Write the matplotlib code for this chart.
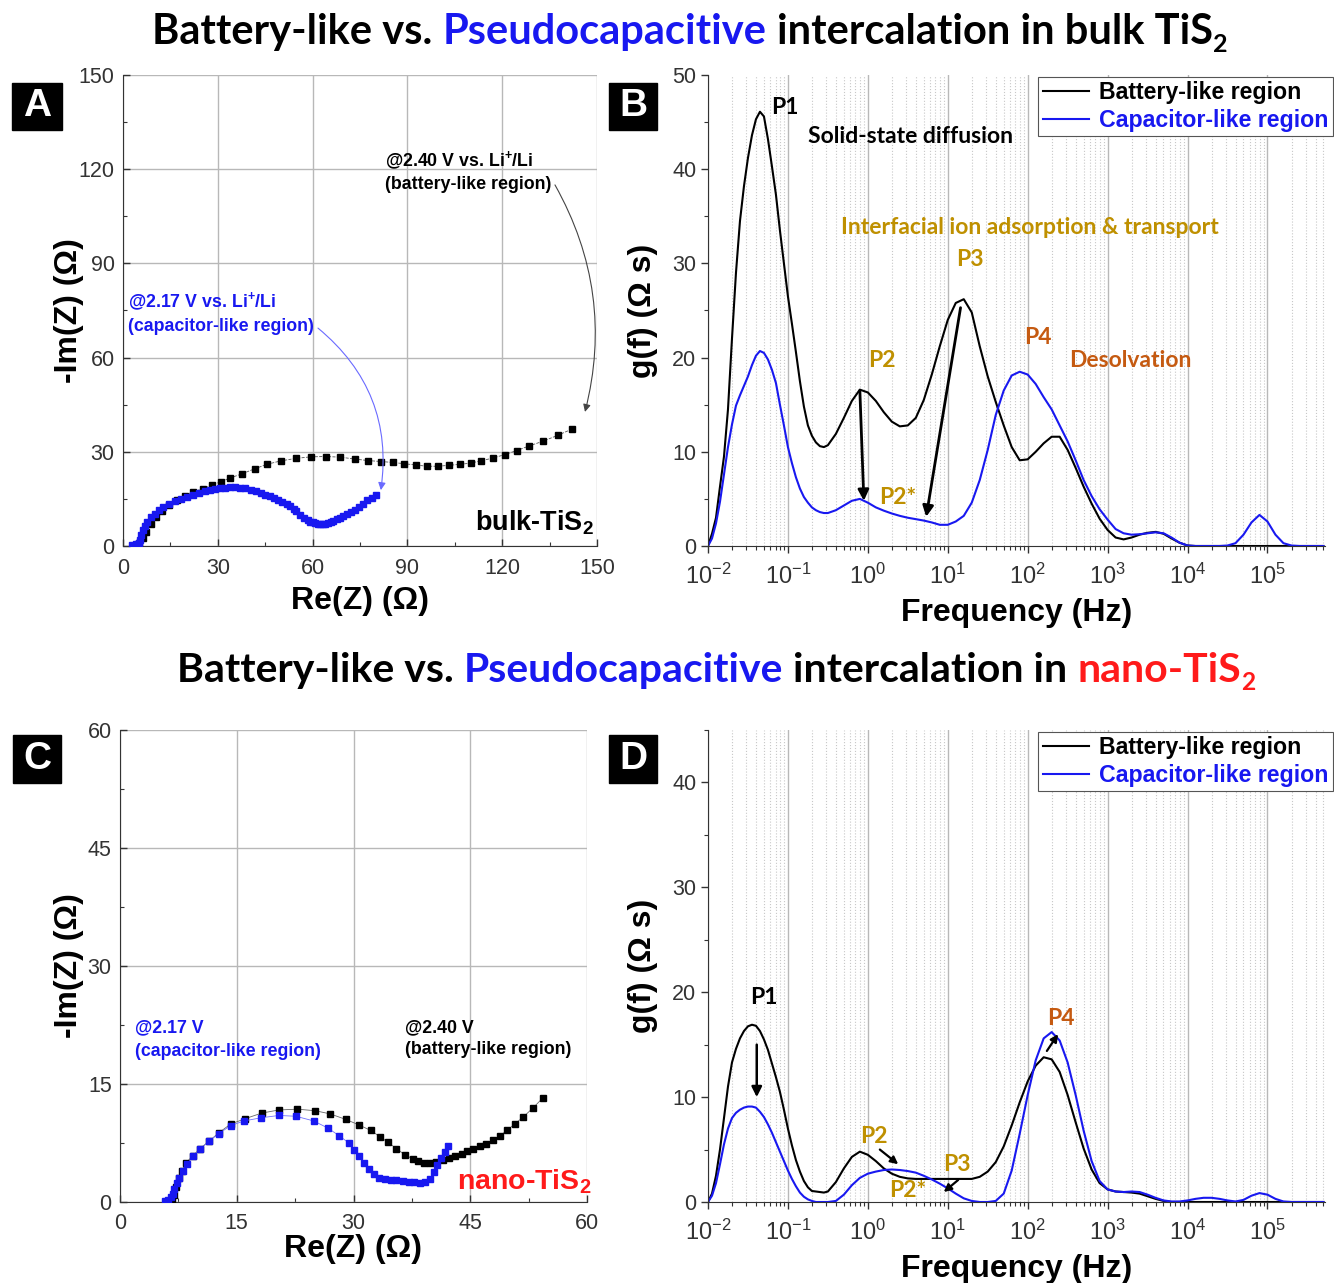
import numpy as np
import matplotlib
matplotlib.use('Agg')
import matplotlib.pyplot as plt
from matplotlib.patches import Rectangle
from matplotlib.ticker import MultipleLocator, FixedLocator, LogLocator, NullFormatter

plt.rcParams['font.family'] = 'Liberation Sans'
plt.rcParams['mathtext.fontset'] = 'custom'
plt.rcParams['mathtext.rm'] = 'Liberation Sans'
plt.rcParams['mathtext.bf'] = 'Liberation Sans:bold'
plt.rcParams['mathtext.it'] = 'Liberation Sans:italic'

BLUE = '#1818f0'
GOLD = '#bf9000'
ORANGE = '#c55a11'
RED = '#ff1a1a'

# --- Nyquist data, bulk TiS2 (Re, -Im in ohm) ---
bulk_240_re = [4.0, 5.2, 6.2, 7.4, 8.8, 10.5, 12.4, 14.6, 17.0, 19.6, 22.3, 25.2,
               28.2, 31.0, 34.0, 37.7, 41.7, 45.5, 49.9, 54.7, 59.4, 64.1, 68.7,
               73.3, 77.6, 81.7, 85.5, 89.0, 92.7, 96.1, 99.6, 103.2, 106.6, 110.0,
               113.2, 117.0, 120.8, 124.6, 128.6, 133.0, 137.7, 142.2]
bulk_240_im = [0.2, 1.0, 2.6, 4.6, 6.9, 9.1, 11.0, 12.9, 14.5, 15.9, 17.2, 18.3,
               19.4, 20.5, 21.7, 23.0, 24.6, 26.0, 27.1, 27.9, 28.4, 28.5, 28.3,
               27.7, 27.2, 26.9, 26.6, 26.2, 25.8, 25.4, 25.4, 25.7, 26.0, 26.4,
               27.1, 28.0, 29.1, 30.4, 31.9, 33.4, 35.3, 37.3]
bulk_217_re = [3.0, 4.2, 5.0, 5.4, 5.8, 6.3, 6.9, 7.7, 8.8, 10.0, 11.3, 12.8, 14.5,
               16.3, 18.3, 20.1, 22.0, 24.0, 25.9, 27.5, 29.0, 30.6, 32.2, 33.8,
               35.3, 37.0, 38.5, 40.4, 42.2, 43.6, 45.0, 46.5, 47.9, 49.2, 50.4,
               51.8, 53.0, 54.0, 54.9, 56.0, 57.4, 58.5, 59.3, 60.0, 60.8, 61.6,
               62.4, 63.2, 64.0, 64.8, 65.7, 66.6, 67.6, 68.6, 69.7, 70.9, 72.1,
               73.3, 74.6, 76.0, 77.3, 78.7, 80.1]
bulk_217_im = [0.3, 0.6, 0.8, 2.0, 3.6, 5.0, 6.5, 7.8, 9.1, 10.3, 11.4, 12.4, 13.3,
               14.2, 15.0, 15.7, 16.3, 16.9, 17.5, 17.9, 18.2, 18.4, 18.6, 18.7,
               18.7, 18.5, 18.4, 17.9, 17.5, 16.9, 16.3, 15.8, 15.2, 14.6, 14.1,
               13.4, 12.7, 11.8, 11.0, 10.0, 9.0, 8.2, 7.7, 7.5, 7.2, 7.1,
               7.0, 7.0, 7.1, 7.3, 7.6, 8.0, 8.5, 9.0, 9.6, 10.2, 10.9,
               11.6, 12.5, 13.5, 14.5, 15.4, 16.3]

# --- Nyquist data, nano TiS2 ---
nano_240_re = [6.7, 7.0, 7.2, 7.6, 8.0, 8.5, 9.4, 10.3, 11.4, 12.7, 14.2, 16.1, 18.2,
               20.4, 22.8, 25.1, 27.0, 29.0, 30.7, 32.2, 33.4, 34.4, 35.5, 36.6,
               37.6, 38.3, 39.1, 39.8, 40.6, 41.5, 42.3, 43.1, 43.9, 44.6, 45.4,
               46.2, 47.0, 47.9, 48.8, 49.7, 50.7, 51.8, 53.0, 54.3]
nano_240_im = [0.2, 0.9, 1.9, 3.1, 4.0, 5.0, 5.9, 6.8, 7.7, 8.8, 9.9, 10.6, 11.3,
               11.7, 11.8, 11.6, 11.2, 10.5, 9.8, 9.1, 8.3, 7.6, 6.8, 6.0,
               5.5, 5.2, 5.0, 5.0, 5.1, 5.3, 5.6, 5.9, 6.1, 6.5, 6.75,
               7.1, 7.4, 7.9, 8.4, 9.1, 9.9, 10.8, 11.9, 13.2]
nano_217_re = [5.8, 6.2, 6.6, 6.8, 7.0, 7.3, 7.6, 8.1, 8.6, 9.4, 10.3, 11.4, 12.7,
               14.2, 15.9, 18.1, 20.4, 22.6, 24.9, 26.7, 28.2, 29.4, 30.0, 30.7,
               31.4, 32.0, 32.6, 33.3, 34.0, 34.8, 35.5, 36.3, 37.1, 37.8, 38.6,
               39.2, 39.8, 40.3, 40.7, 41.2, 41.7, 42.1]
nano_217_im = [0.1, 0.2, 0.6, 1.0, 1.7, 2.4, 3.1, 3.9, 4.8, 5.8, 6.7, 7.7, 8.7,
               9.7, 10.3, 10.7, 11.0, 10.9, 10.3, 9.4, 8.4, 7.5, 6.6, 5.8,
               5.0, 4.2, 3.5, 3.1, 2.9, 2.8, 2.75, 2.65, 2.55, 2.5, 2.4,
               2.5, 2.9, 3.8, 4.7, 5.6, 6.4, 7.1]

# --- DRT data, g(f) in ohm s ---
# 0.05-decade steps through the P1 region (1e-2 .. 10^-0.55 Hz),
# 0.1-decade steps from 10^-0.5 up to 10^5.7 Hz
log_f = np.round(np.concatenate([np.arange(-2.0, -0.525, 0.05),
                                 np.arange(-0.5, 5.75, 0.1)]), 2)
freq = 10.0 ** log_f
decades = [1e-2, 1e-1, 1e0, 1e1, 1e2, 1e3, 1e4, 1e5]

drt_bulk_battery = [
    # -2.00 .. -0.55
    0, 1.3, 3.0, 6.3, 9.5, 14.5, 22.0, 29.0, 34.5, 38.2,
    41.2, 43.6, 45.3, 46.1, 45.6, 43.2, 40.3, 37.3, 33.5, 30.0,
    26.5, 23.6, 20.6, 17.5, 14.8, 12.8, 11.7, 11.0, 10.6, 10.5,
    # -0.5 .. 5.7
    10.7, 11.9, 13.6, 15.4, 16.6,
    16.3, 15.4, 14.2, 13.2, 12.7, 12.8, 13.6, 15.5, 18.2, 21.2,
    24.0, 25.8, 26.2, 24.8, 21.2, 18.0, 15.3, 12.8, 10.5, 9.1,
    9.2, 10.0, 10.9, 11.6, 11.6, 10.2, 8.3, 6.3, 4.5, 2.9,
    1.7, 0.9, 0.7, 0.9, 1.2, 1.4, 1.5, 1.3, 0.8, 0.35,
    0.05, 0, 0, 0, 0, 0, 0, 0, 0, 0,
    0, 0, 0, 0, 0, 0, 0, 0]
drt_bulk_capacitor = [
    0, 0.8, 2.4, 4.7, 7.6, 10.5, 12.9, 14.9, 16.0, 17.0,
    18.0, 19.2, 20.2, 20.7, 20.5, 19.8, 18.7, 17.3, 15.0, 12.8,
    10.5, 8.8, 7.3, 6.1, 5.2, 4.6, 4.1, 3.8, 3.6, 3.5,
    3.5, 3.8, 4.3, 4.8, 5.0,
    4.6, 4.1, 3.75, 3.45, 3.2, 3.0, 2.85, 2.7, 2.5, 2.25,
    2.25, 2.6, 3.2, 4.6, 7.0, 10.2, 13.9, 16.5, 18.1, 18.5,
    18.2, 17.2, 15.8, 14.5, 12.8, 11.1, 9.1, 7.0, 5.3, 3.9,
    2.8, 1.8, 1.35, 1.2, 1.25, 1.35, 1.45, 1.35, 0.9, 0.35,
    0.05, 0, 0, 0, 0, 0.05, 0.3, 1.2, 2.5, 3.3,
    2.6, 1.2, 0.3, 0.05, 0, 0, 0, 0]
drt_nano_battery = [
    0, 0.8, 2.5, 5, 8, 11, 13.3, 14.6, 15.6, 16.3,
    16.75, 16.9, 16.8, 16.3, 15.5, 14.5, 13.2, 11.9, 10.5, 8.8,
    7.0, 5.4, 4.0, 2.9, 2.0, 1.4, 1.05, 1.0, 0.95, 0.9,
    1.0, 1.9, 3.2, 4.3, 4.8,
    4.5, 3.9, 3.2, 2.7, 2.4, 2.25, 2.2, 2.2, 2.2, 2.2,
    2.2, 2.2, 2.2, 2.2, 2.4, 2.9, 3.8, 5.3, 7.3, 9.5,
    11.5, 13.0, 13.8, 13.6, 12.4, 10.2, 7.6, 5.1, 3.1, 1.8,
    1.2, 1.0, 0.95, 0.9, 0.8, 0.55, 0.3, 0.1, 0, 0,
    0, 0, 0, 0, 0, 0, 0, 0, 0, 0,
    0, 0, 0, 0, 0, 0, 0, 0]
drt_nano_capacitor = [
    0, 0.6, 1.8, 3.6, 5.5, 7.0, 8.0, 8.5, 8.8, 9.0,
    9.1, 9.1, 9.0, 8.6, 8.1, 7.4, 6.6, 5.7, 4.8, 3.9,
    3.0, 2.2, 1.5, 0.9, 0.5, 0.25, 0.1, 0, 0, 0,
    0, 0.1, 0.7, 1.6, 2.3,
    2.7, 2.9, 3.05, 3.1, 3.05, 2.95, 2.8, 2.5, 2.15, 1.75,
    1.3, 0.8, 0.35, 0.1, 0, 0, 0.1, 0.8, 3.0, 6.5,
    10.2, 13.5, 15.6, 16.2, 15.4, 13.3, 10.2, 6.8, 3.9, 2.0,
    1.2, 1.0, 0.95, 1.0, 0.95, 0.7, 0.4, 0.15, 0.05, 0.05,
    0.15, 0.3, 0.4, 0.4, 0.3, 0.15, 0.05, 0.2, 0.6, 0.85,
    0.7, 0.3, 0.05, 0, 0, 0, 0, 0]

W, H = 1334, 1283
fig = plt.figure(figsize=(W / 100, H / 100), dpi=100)


def px_axes(left, top, right, bottom):
    return fig.add_axes([left / W, 1 - bottom / H, (right - left) / W, (bottom - top) / H])


def panel_tag(x0, y0, x1, y1, letter):
    fig.add_artist(Rectangle((x0 / W, 1 - y1 / H), (x1 - x0) / W, (y1 - y0) / H,
                             transform=fig.transFigure, color='black'))
    fig.text((x0 + x1) / 2 / W, 1 - (y0 + y1) / 2 / H, letter, color='white',
             fontsize=28, fontweight='bold', ha='center', va='center')


def style_nyquist(ax, lim, step, xpad, xlabelpad, ylabel_x):
    ax.set_xlim(0, lim)
    ax.set_ylim(0, lim)
    for axis in (ax.xaxis, ax.yaxis):
        axis.set_major_locator(MultipleLocator(step))
        axis.set_minor_locator(MultipleLocator(step / 2))
    ax.grid(True, which='major', color='#b8b8b8', lw=1)
    ax.set_axisbelow(True)
    for s in ('top', 'right'):
        ax.spines[s].set_visible(False)
    for s in ('left', 'bottom'):
        ax.spines[s].set_color('#333333')
    ax.tick_params(which='major', direction='in', length=5, width=1,
                   labelsize=15.5, colors='#333333', pad=6)
    ax.tick_params(axis='x', which='major', pad=xpad)
    ax.tick_params(which='minor', direction='in', length=3, width=0.8, colors='#333333')
    ax.set_xlabel('Re(Z) (Ω)', fontsize=23, fontweight='bold', labelpad=xlabelpad)
    ax.set_ylabel('-Im(Z) (Ω)', fontsize=23, fontweight='bold')
    ax.yaxis.set_label_coords(ylabel_x, 0.5)


def style_drt(ax, ytop):
    ax.set_xscale('log')
    ax.set_xlim(1e-2, 10 ** 5.72)
    ax.set_ylim(0, ytop)
    ax.xaxis.set_major_locator(FixedLocator(decades))
    ax.xaxis.set_minor_locator(LogLocator(base=10, subs=np.arange(2, 10), numticks=200))
    ax.xaxis.set_minor_formatter(NullFormatter())
    ax.yaxis.set_major_locator(MultipleLocator(10))
    ax.yaxis.set_minor_locator(MultipleLocator(5))
    ax.grid(True, which='major', axis='x', color='#b8b8b8', lw=1)
    ax.grid(True, which='minor', axis='x', color='#c8c8c8', lw=0.8, ls=':')
    ax.set_axisbelow(True)
    for s in ('top', 'right'):
        ax.spines[s].set_visible(False)
    for s in ('left', 'bottom'):
        ax.spines[s].set_color('#333333')
    ax.tick_params(which='major', direction='out', length=5, width=1,
                   labelsize=15.5, colors='#333333')
    ax.tick_params(axis='x', which='major', labelsize=17, pad=8)
    ax.tick_params(which='minor', direction='out', length=3, width=0.8, colors='#333333')
    ax.set_xlabel('Frequency (Hz)', fontsize=23, fontweight='bold', labelpad=6)
    ax.set_ylabel('g(f) (Ω s)', fontsize=23, fontweight='bold', labelpad=10)
    leg = ax.legend(loc='upper right', bbox_to_anchor=(1.013, 0.996), borderaxespad=0,
                    fancybox=False, edgecolor='#555555', framealpha=1,
                    handlelength=2.0, handletextpad=0.45, borderpad=0.18,
                    labelspacing=0.2, prop={'weight': 'bold', 'size': 16.7})
    leg.get_frame().set_linewidth(0.8)
    leg.get_texts()[0].set_color('black')
    leg.get_texts()[1].set_color(BLUE)


def note(ax, x, y, s, color, size=16.5, ha='center'):
    ax.text(x, y, s, color=color, fontsize=size, fontweight='bold', family='Lato',
            ha=ha, va='center')


def arrow(ax, start, end, lw=1.8, scale=16, color='black', rad=0.0):
    ax.annotate('', xy=end, xytext=start,
                arrowprops=dict(arrowstyle='-|>', color=color, lw=lw,
                                mutation_scale=scale, shrinkA=0, shrinkB=0,
                                connectionstyle=f'arc3,rad={rad}'))


def rich_line(x0, y0, parts, size):
    # draw a run of differently coloured words on one baseline, left to right
    renderer = fig.canvas.get_renderer()
    probe = fig.text(0, 0, 'x x', fontsize=size, fontweight='bold', family='Lato')
    w2 = probe.get_window_extent(renderer).width
    probe.set_text('xx')
    space = w2 - probe.get_window_extent(renderer).width
    probe.remove()
    x = x0
    for txt, color, kind in parts:
        if kind == 'sub':
            fs, y = size * 0.6, y0 + size * 0.2 * 100 / 72
        else:
            fs, y = size, y0
        t = fig.text(x / W, 1 - y / H, txt, color=color, fontsize=fs,
                     fontweight='bold', family='Lato', ha='left', va='baseline')
        x += t.get_window_extent(renderer).width
        if kind == 'space':
            x += space


# ---------------- panel A ----------------
axA = px_axes(123, 75, 597, 546)
style_nyquist(axA, 150, 30, xpad=9, xlabelpad=5, ylabel_x=-0.082)
axA.plot(bulk_240_re, bulk_240_im, color='#555555', lw=0.6, ls='--', zorder=2)
axA.plot(bulk_240_re, bulk_240_im, 's', color='black', ms=5, zorder=3)
axA.plot(bulk_217_re, bulk_217_im, '-', color=BLUE, lw=0.6, zorder=4)
axA.plot(bulk_217_re, bulk_217_im, 's', color=BLUE, ms=5, zorder=5)
axA.text(82.9, 122.6, r'@2.40 V vs. Li$^{\mathbf{+}}$/Li', fontsize=12.8, fontweight='bold', va='center')
axA.text(82.9, 115.0, '(battery-like region)', fontsize=12.8, fontweight='bold', va='center')
axA.text(1.6, 77.7, r'@2.17 V vs. Li$^{\mathbf{+}}$/Li', fontsize=12.8, fontweight='bold',
         va='center', color=BLUE)
axA.text(1.6, 70.0, '(capacitor-like region)', fontsize=12.8, fontweight='bold',
         va='center', color=BLUE)
arrow(axA, (136.7, 115.0), (146.2, 42.7), lw=0.8, scale=11, color='#444444', rad=-0.2)
arrow(axA, (61.7, 69.4), (81.6, 17.8), lw=0.8, scale=11, color='#6a6aff', rad=-0.28)
axA.text(149, 7.3, r'bulk-TiS$_\mathbf{2}$', fontsize=19.5, fontweight='bold',
         ha='right', va='center')

# ---------------- panel B ----------------
axB = px_axes(708, 75, 1325, 546)
axB.plot(freq, drt_bulk_battery, color='black', lw=1.5, solid_joinstyle='round',
         label='Battery-like region')
axB.plot(freq, drt_bulk_capacitor, color=BLUE, lw=1.5, solid_joinstyle='round',
         label='Capacitor-like region')
style_drt(axB, 50)
note(axB, 10 ** -1.04, 46.5, 'P1', 'black')
note(axB, 10 ** 0.53, 43.5, 'Solid-state diffusion', 'black')
note(axB, 10 ** 2.03, 33.8, 'Interfacial ion adsorption & transport', GOLD)
note(axB, 10 ** 1.28, 30.4, 'P3', GOLD)
note(axB, 10 ** 0.18, 19.7, 'P2', GOLD)
note(axB, 10 ** 2.13, 22.1, 'P4', ORANGE)
note(axB, 10 ** 3.28, 19.7, 'Desolvation', ORANGE)
note(axB, 10 ** 0.38, 5.2, 'P2*', GOLD)
arrow(axB, (10 ** -0.1, 16.5), (10 ** -0.05, 4.8), lw=2, scale=16)
arrow(axB, (10 ** 1.16, 25.3), (10 ** 0.73, 3.1), lw=2, scale=16)

# ---------------- panel C ----------------
axC = px_axes(120, 730, 587, 1202)
style_nyquist(axC, 60, 15, xpad=8, xlabelpad=0, ylabel_x=-0.077)
axC.plot(nano_240_re, nano_240_im, color='#666666', lw=0.6, zorder=2)
axC.plot(nano_240_re, nano_240_im, 's', color='black', ms=4, zorder=3)
axC.plot(nano_217_re, nano_217_im, color='#7070ff', lw=0.6, zorder=4)
axC.plot(nano_217_re, nano_217_im, 's', color=BLUE, ms=4, zorder=5)
axC.text(1.9, 22.1, '@2.17 V', fontsize=12.8, fontweight='bold', va='center', color=BLUE)
axC.text(1.9, 19.1, '(capacitor-like region)', fontsize=12.8, fontweight='bold',
         va='center', color=BLUE)
axC.text(36.6, 22.2, '@2.40 V', fontsize=12.8, fontweight='bold', va='center')
axC.text(36.6, 19.4, '(battery-like region)', fontsize=12.8, fontweight='bold', va='center')
axC.text(60.6, 2.6, r'nano-TiS$_\mathbf{2}$', fontsize=20.5, fontweight='bold',
         ha='right', va='center', color=RED)

# ---------------- panel D ----------------
axD = px_axes(708, 730, 1325, 1202)
axD.plot(freq, drt_nano_battery, color='black', lw=1.5, solid_joinstyle='round',
         label='Battery-like region')
axD.plot(freq, drt_nano_capacitor, color=BLUE, lw=1.5, solid_joinstyle='round',
         label='Capacitor-like region')
style_drt(axD, 45)
note(axD, 10 ** -1.30, 19.5, 'P1', 'black')
note(axD, 10 ** 0.07, 6.2, 'P2', GOLD)
note(axD, 10 ** 1.12, 3.6, 'P3', GOLD)
note(axD, 10 ** 0.50, 1.05, 'P2*', GOLD)
note(axD, 10 ** 2.41, 17.5, 'P4', ORANGE)
arrow(axD, (10 ** -1.39, 15.0), (10 ** -1.39, 10.0), lw=1.8, scale=15)
arrow(axD, (10 ** 0.15, 5.0), (10 ** 0.38, 3.6), lw=1.6, scale=11)
arrow(axD, (10 ** 1.13, 2.1), (10 ** 0.95, 0.95), lw=1.6, scale=11)
arrow(axD, (10 ** 2.24, 14.4), (10 ** 2.38, 16.0), lw=1.6, scale=11)

# ---------------- tags and headings ----------------
panel_tag(12, 83, 62, 130, 'A')
panel_tag(609, 83, 657, 130, 'B')
panel_tag(13, 735, 61, 783, 'C')
panel_tag(609, 735, 657, 783, 'D')

rich_line(152, 44, [('Battery-like vs.', 'black', 'space'),
                    ('Pseudocapacitive', BLUE, 'space'),
                    ('intercalation in bulk TiS', 'black', ''),
                    ('2', 'black', 'sub')], 30)
rich_line(177, 682, [('Battery-like vs.', 'black', 'space'),
                     ('Pseudocapacitive', BLUE, 'space'),
                     ('intercalation in', 'black', 'space'),
                     ('nano-TiS', RED, ''),
                     ('2', RED, 'sub')], 29.5)

fig.savefig('out.png', dpi=100)
